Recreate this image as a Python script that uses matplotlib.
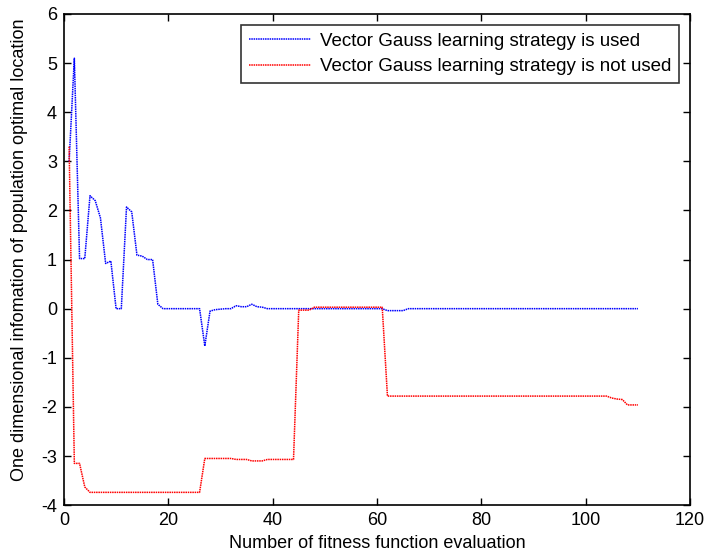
import numpy as np
import matplotlib
matplotlib.use("Agg")
import matplotlib.pyplot as plt

# Optimal location (1-D) of the population at each fitness evaluation
evals = list(range(1, 111))

with_gauss = [
    3.0, 5.1, 1.02, 1.02, 2.3, 2.2, 1.85, 0.92, 0.97, 0.0,
    0.0, 2.07, 1.97, 1.09, 1.07, 1.0, 1.0, 0.09, 0.0, 0.0,
    0.0, 0.0, 0.0, 0.0, 0.0, 0.0, -0.76, -0.05, -0.02, -0.01,
    0.0, 0.0, 0.06, 0.04, 0.04, 0.09, 0.04, 0.03, 0.0, 0.0,
    0.0, 0.0, 0.0, 0.0, 0.0, 0.0, 0.0, 0.0, 0.0, 0.0,
    0.0, 0.0, 0.0, 0.0, 0.0, 0.0, 0.0, 0.0, 0.0, 0.0,
    0.0, -0.04, -0.04, -0.04, -0.04, 0.0, 0.0, 0.0, 0.0, 0.0,
    0.0, 0.0, 0.0, 0.0, 0.0, 0.0, 0.0, 0.0, 0.0, 0.0,
    0.0, 0.0, 0.0, 0.0, 0.0, 0.0, 0.0, 0.0, 0.0, 0.0,
    0.0, 0.0, 0.0, 0.0, 0.0, 0.0, 0.0, 0.0, 0.0, 0.0,
    0.0, 0.0, 0.0, 0.0, 0.0, 0.0, 0.0, 0.0, 0.0, 0.0,
]

without_gauss = [
    3.3, -3.15, -3.15, -3.63, -3.74, -3.74, -3.74, -3.74, -3.74, -3.74,
    -3.74, -3.74, -3.74, -3.74, -3.74, -3.74, -3.74, -3.74, -3.74, -3.74,
    -3.74, -3.74, -3.74, -3.74, -3.74, -3.74, -3.05, -3.05, -3.05, -3.05,
    -3.05, -3.05, -3.07, -3.07, -3.07, -3.1, -3.1, -3.1, -3.07, -3.07,
    -3.07, -3.07, -3.07, -3.07, -0.03, -0.03, -0.03, 0.03, 0.03, 0.03,
    0.03, 0.03, 0.03, 0.03, 0.03, 0.03, 0.03, 0.03, 0.03, 0.03,
    0.03, -1.78, -1.78, -1.78, -1.78, -1.78, -1.78, -1.78, -1.78, -1.78,
    -1.78, -1.78, -1.78, -1.78, -1.78, -1.78, -1.78, -1.78, -1.78, -1.78,
    -1.78, -1.78, -1.78, -1.78, -1.78, -1.78, -1.78, -1.78, -1.78, -1.78,
    -1.78, -1.78, -1.78, -1.78, -1.78, -1.78, -1.78, -1.78, -1.78, -1.78,
    -1.78, -1.78, -1.78, -1.78, -1.82, -1.84, -1.85, -1.96, -1.96, -1.96,
]

labels = ["Vector Gauss learning strategy is used",
          "Vector Gauss learning strategy is not used"]

plt.rcParams["font.family"] = ["Liberation Sans", "DejaVu Sans"]
plt.rcParams["axes.unicode_minus"] = False

fig = plt.figure(figsize=(7.1, 5.6), dpi=100)
ax = fig.add_axes([0.090, 0.098, 0.882, 0.877])

dots = (0, (1, 0.5))
ax.plot(evals, with_gauss, color="blue", linestyle=dots, linewidth=1.1, label=labels[0])
ax.plot(evals, without_gauss, color="red", linestyle=dots, linewidth=1.1, label=labels[1])

ax.set_xlim(0, 120)
ax.set_ylim(-4, 6)
ax.set_xticks(np.arange(0, 121, 20))
ax.set_yticks(np.arange(-4, 7, 1))
ax.tick_params(direction="in", top=True, right=True, length=5, width=1,
               labelsize=13, pad=5)
for s in ax.spines.values():
    s.set_linewidth(1.2)

ax.set_xlabel("Number of fitness function evaluation", fontsize=13, labelpad=4)
ax.set_ylabel("One dimensional infomation of population optimal location",
              fontsize=13)
ax.yaxis.set_label_coords(-0.058, 0.52)

leg = ax.legend(loc="upper right", fontsize=13.5, frameon=True, fancybox=False,
                edgecolor="black", handlelength=3.3, handletextpad=0.5,
                borderpad=0.4, labelspacing=0.45, borderaxespad=0.6)
leg.get_frame().set_linewidth(1.2)

fig.savefig("out.png", dpi=100)
